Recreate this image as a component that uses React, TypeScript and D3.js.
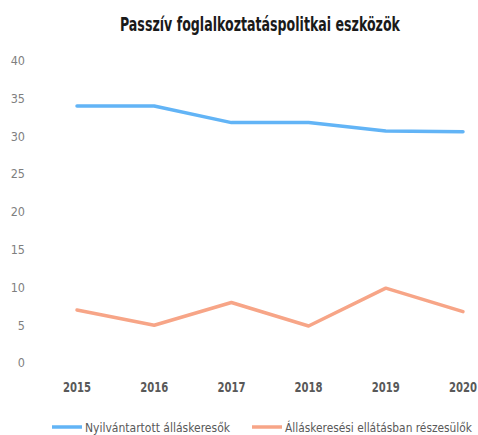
import * as d3 from 'd3';
import * as React from 'react';

const years = ['2015', '2016', '2017', '2018', '2019', '2020'];
const registered = [34, 34, 31.8, 31.8, 30.7, 30.6];
const benefit = [7, 5, 8, 4.9, 9.9, 6.8];
const yTicks = [0, 5, 10, 15, 20, 25, 30, 35, 40];
const seriesNames = ['Nyilvántartott álláskeresők', 'Álláskeresési ellátásban részesülők'];
const seriesColors = ['#62b4f6', '#f7a587'];

const width = 478;
const height = 435;
const font = "'DejaVu Sans Condensed', 'Liberation Sans', sans-serif";

export default function App() {
    const x = d3.scalePoint<string>().domain(years).range([77, 463]);
    const y = d3.scaleLinear().domain([0, 40]).range([363, 60.6]);

    const line = d3.line<number>()
        .x((_, i) => x(years[i]) as number)
        .y((d) => y(d));

    const series = [registered, benefit];
    const legendX = [52, 252];
    const legendW = [145, 187];

    return (
        <svg width={width} height={height} style={{position: 'absolute', left: 0, top: 0, background: '#fff'}}>
            <text x={120} y={31} textLength={280} lengthAdjust='spacingAndGlyphs' fontFamily={font} fontWeight='bold' fontSize={19} fill='#1a1a1a'>
                Passzív foglalkoztatáspolitkai  eszközök
            </text>
            <g className='y-axis'>
                {yTicks.map((t) => (
                    <text key={t} x={25} y={y(t)} dy='0.35em' textAnchor='end' fontFamily={font} fontSize={12.5} fill='#7f7f7f'>{t}</text>
                ))}
            </g>
            <g className='x-axis'>
                {years.map((yr) => (
                    <text key={yr} x={(x(yr) as number) - 14} y={387} dy='0.35em' textLength={28} lengthAdjust='spacingAndGlyphs' fontFamily={font} fontWeight='bold' fontSize={14} fill='#595959'>{yr}</text>
                ))}
            </g>
            {series.map((s, i) => (
                <path key={i} d={line(s) || ''} fill='none' stroke={seriesColors[i]} strokeWidth={3.5} strokeLinejoin='round' strokeLinecap='round' />
            ))}
            <g className='legend'>
                {seriesNames.map((name, i) => (
                    <g key={name} transform={`translate(${legendX[i]},427)`}>
                        <line x1={0} x2={30} y1={0} y2={0} stroke={seriesColors[i]} strokeWidth={3.5} />
                        <text x={33} y={0} dy='0.35em' textLength={legendW[i]} lengthAdjust='spacingAndGlyphs' fontFamily={font} fontSize={13} fill='#595959'>{name}</text>
                    </g>
                ))}
            </g>
        </svg>
    );
}
